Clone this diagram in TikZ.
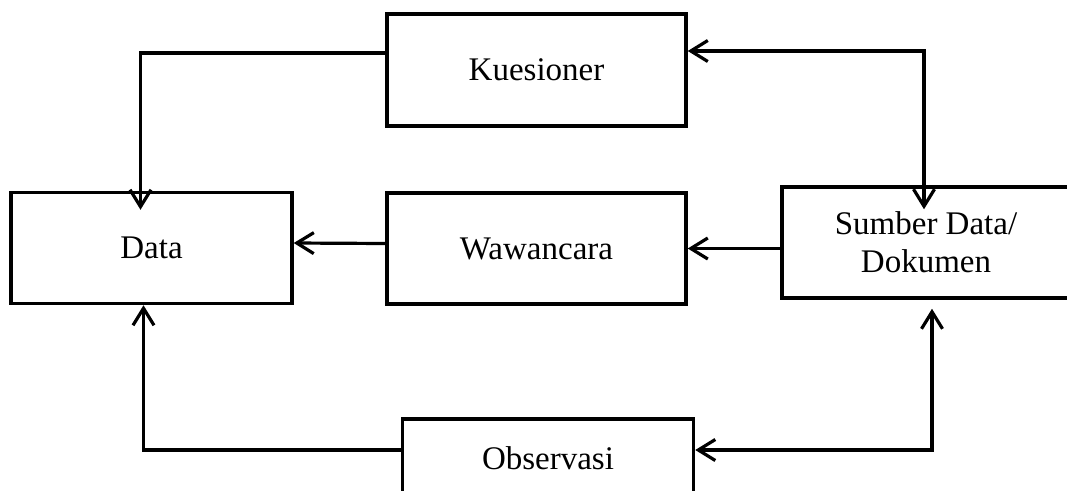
\documentclass[tikz,border=0pt]{standalone}
\usepackage{fontspec}
\setmainfont{Liberation Serif}
\usetikzlibrary{arrows.meta}
\begin{document}
\begin{tikzpicture}[x=1pt,y=-1pt,
  box/.style={draw,line width=3.5pt,minimum width=#1,inner sep=0pt,align=center,
    font=\fontsize{33}{38}\selectfont},
  conn/.style={line width=3.2pt},
  tip/.style={-{Straight Barb[length=17pt,width=21pt,line width=3.2pt]}},
  tips/.style={{Straight Barb[length=17pt,width=21pt,line width=3.2pt]}-{Straight Barb[length=17pt,width=21pt,line width=3.2pt]}}]
\useasboundingbox (0,0) rectangle (1067,490);
\node[box=299pt,minimum height=112pt] (kues) at (536.5,70) {Kuesioner};
\node[box=281pt,minimum height=111pt] (data) at (151.5,248) {Data};
\node[box=299pt,minimum height=111pt] (waw) at (536.5,248.5) {Wawancara};
\node[box=288pt,minimum height=111pt] (sumber) at (926,242.5) {Sumber Data/\\Dokumen};
\node[box=291pt,minimum height=78pt] (obs) at (548,458) {Observasi};
% Kuesioner -> Data
\draw[conn,tip,shorten >=-19pt] ([yshift=17pt]kues.west) -| ([xshift=-11pt]data.north);
% Sumber <-> Kuesioner
\draw[conn,tips,shorten >=-24pt] ([yshift=19pt]kues.east) -| ([xshift=-2pt]sumber.north);
% Sumber -> Wawancara
\draw[conn,tip] (sumber.west |- waw.east) -- (waw.east);
% Wawancara -> Data
\draw[conn,tip] ([yshift=5pt]waw.west) -- ([yshift=5pt]data.east);
% Observasi -> Data
\draw[conn,tip] ([yshift=8pt]obs.west) -| ([xshift=-8pt]data.south);
% Observasi <-> Sumber
\draw[conn,tips,shorten >=9pt] ([yshift=8pt]obs.east) -| ([xshift=6pt]sumber.south);
\end{tikzpicture}
\end{document}
